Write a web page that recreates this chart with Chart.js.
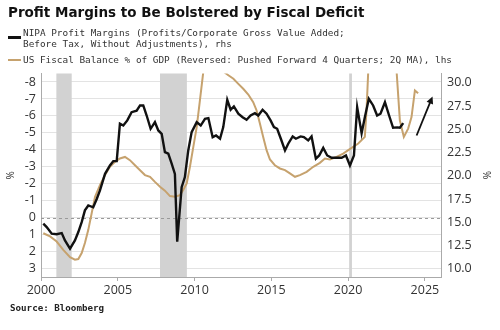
<!DOCTYPE html>
<html>
<head>
<meta charset="utf-8">
<script src="https://cdn.jsdelivr.net/npm/chart.js@4/dist/chart.umd.min.js"></script>
<style>
  body { margin: 0; background: #fff; }
  #wrap { position: relative; width: 500px; height: 330px; overflow: hidden; }
  #chart { position: absolute; left: 0; top: 0; }
  .txt { position: absolute; white-space: nowrap; color: #333; }
  #title { left: 8px; top: 4px; font: bold 13.5px "DejaVu Sans", sans-serif; color: #111; }
  .leg { font: 9.4px "DejaVu Sans Mono", monospace; line-height: 11px; left: 23px; }
  .key { position: absolute; left: 8px; width: 13px; height: 2px; }
  #source { left: 10px; top: 302px; font: bold 9.2px "DejaVu Sans Mono", monospace; color: #222; }
</style>
</head>
<body>
<div id="wrap">
  <canvas id="chart" width="500" height="330"></canvas>
  <div class="txt" id="title">Profit Margins to Be Bolstered by Fiscal Deficit</div>
  <div class="key" style="top:36px;background:#111;height:2.5px"></div>
  <div class="txt leg" style="top:27px">NIPA Profit Margins (Profits/Corporate Gross Value Added;<br>Before Tax, Without Adjustments), rhs</div>
  <div class="key" style="top:59px;background:#c6a26e"></div>
  <div class="txt leg" style="top:54px">US Fiscal Balance % of GDP (Reversed: Pushed Forward 4 Quarters; 2Q MA), lhs</div>
  <div class="txt" id="source">Source: Bloomberg</div>
</div>
<script>
// NIPA profit margins (rhs)
const marginYears = [2000.15, 2000.37, 2000.7, 2001.02, 2001.35, 2001.56, 2001.89, 2002.21, 2002.43, 2002.65,
  2002.86, 2003.08, 2003.4, 2003.63, 2003.84, 2004.17, 2004.49, 2004.71, 2004.93, 2005.14,
  2005.36, 2005.62, 2005.9, 2006.23, 2006.45, 2006.66, 2006.88, 2007.14, 2007.42, 2007.64,
  2007.86, 2008.07, 2008.29, 2008.51, 2008.72, 2008.87, 2009.16, 2009.37, 2009.59, 2009.81,
  2010.14, 2010.4, 2010.68, 2010.9, 2011.18, 2011.4, 2011.66, 2011.87, 2012.13, 2012.35,
  2012.56, 2012.85, 2013.13, 2013.39, 2013.65, 2013.93, 2014.15, 2014.43, 2014.69, 2014.95,
  2015.17, 2015.38, 2015.62, 2015.89, 2016.1, 2016.39, 2016.6, 2016.91, 2017.12, 2017.4,
  2017.62, 2017.9, 2018.12, 2018.38, 2018.64, 2018.93, 2019.25, 2019.58, 2019.86, 2020.12,
  2020.38, 2020.59, 2020.88, 2021.09, 2021.35, 2021.63, 2021.89, 2022.11, 2022.4, 2022.67,
  2022.93, 2023.2, 2023.37, 2023.59];
const marginValues = [14.84, 14.47, 13.76, 13.7, 13.83, 13.04, 12.15, 13.04, 13.94, 15.0,
  16.27, 16.8, 16.6, 17.5, 18.42, 20.2, 21.1, 21.57, 21.57, 25.6,
  25.4, 25.95, 26.84, 27.0, 27.56, 27.56, 26.48, 25.05, 25.76, 24.87,
  24.5, 22.54, 22.37, 21.3, 20.2, 12.9, 18.77, 19.85, 22.72, 24.69,
  25.76, 25.4, 26.13, 26.2, 24.15, 24.33, 23.98, 25.23, 28.17, 27.1,
  27.45, 26.67, 26.3, 26.02, 26.48, 26.73, 26.48, 27.1, 26.67, 25.95,
  25.23, 25.05, 23.98, 22.72, 23.44, 24.23, 23.98, 24.23, 24.15, 23.8,
  24.23, 21.83, 22.18, 23.0, 22.18, 21.93, 21.93, 21.93, 22.18, 21.1,
  22.18, 27.38, 24.58, 26.3, 28.28, 27.56, 26.48, 26.67, 27.91, 26.48,
  25.16, 25.2, 25.16, 25.66];

// US fiscal balance % of GDP (lhs, reversed)
const fiscalYears = [2000.15, 2000.59, 2001.02, 2001.45, 2001.89, 2002.21, 2002.43, 2002.65, 2002.86, 2003.08,
  2003.3, 2003.52, 2003.84, 2004.17, 2004.49, 2004.82, 2005.14, 2005.47, 2005.79, 2006.12,
  2006.45, 2006.77, 2007.1, 2007.42, 2007.75, 2008.07, 2008.4, 2008.72, 2009.05, 2009.26,
  2009.49, 2009.7, 2009.92, 2010.14, 2010.35, 2010.57, 2010.8, 2011.1, 2011.4, 2011.7,
  2011.9, 2012.2, 2012.53, 2012.85, 2013.17, 2013.5, 2013.82, 2014.04, 2014.26, 2014.47,
  2014.69, 2014.91, 2015.23, 2015.56, 2015.89, 2016.21, 2016.54, 2016.86, 2017.3, 2017.73,
  2018.16, 2018.49, 2018.82, 2019.25, 2019.68, 2020.01, 2020.33, 2020.66, 2021.09, 2021.2,
  2021.31, 2021.5, 2021.8, 2022.1, 2022.4, 2022.7, 2023.0, 2023.16, 2023.37, 2023.63,
  2023.91, 2024.13, 2024.35, 2024.56];
const fiscalValues = [0.92, 1.11, 1.41, 1.9, 2.33, 2.48, 2.44, 2.09, 1.5, 0.72,
  -0.26, -1.23, -1.92, -2.51, -3.0, -3.29, -3.49, -3.58, -3.39, -3.09,
  -2.8, -2.51, -2.41, -2.11, -1.82, -1.59, -1.27, -1.23, -1.33, -1.63,
  -2.02, -3.0, -4.17, -5.34, -6.91, -8.6, -9.6, -9.9, -9.6, -8.9,
  -8.6, -8.4, -8.19, -7.89, -7.6, -7.26, -6.81, -6.32, -5.54, -4.76,
  -3.98, -3.43, -3.09, -2.9, -2.8, -2.61, -2.41, -2.51, -2.7, -3.0,
  -3.23, -3.49, -3.43, -3.58, -3.78, -3.98, -4.17, -4.37, -4.76, -6.32,
  -8.6, -11, -14, -15, -13.5, -11.5, -9.5, -8.6, -5.74, -4.76,
  -5.25, -5.93, -7.5, -7.34];

const xTicks = [2000, 2005, 2010, 2015, 2020, 2025];
const leftTicks = [-8, -7, -6, -5, -4, -3, -2, -1, 0, 1, 2, 3];
const rightTicks = [10, 12.5, 15, 17.5, 20, 22.5, 25, 27.5, 30];

// recessions (shaded)
const recessionStart = [2001.0, 2007.75, 2020.07];
const recessionEnd = [2002.0, 2009.5, 2020.25];

// annotation arrow, in (year, rhs value)
const arrowYears = [2024.46, 2025.5];
const arrowValues = [24.33, 28.53];

const tickFont = { family: 'Open Sans', size: 12.5 };

const backdrop = {
  id: 'backdrop',
  beforeDatasetsDraw(chart) {
    const { ctx, chartArea, scales } = chart;
    ctx.save();
    ctx.fillStyle = '#d2d2d2';
    recessionStart.forEach((s, i) => {
      const x0 = scales.x.getPixelForValue(s);
      const x1 = scales.x.getPixelForValue(recessionEnd[i]);
      ctx.fillRect(x0, chartArea.top, x1 - x0, chartArea.bottom - chartArea.top);
    });
    // zero line
    const y0 = Math.round(scales.yL.getPixelForValue(0)) + 0.5;
    ctx.strokeStyle = '#9a9a9a';
    ctx.lineWidth = 1;
    ctx.setLineDash([3, 3]);
    ctx.beginPath();
    ctx.moveTo(chartArea.left, y0);
    ctx.lineTo(chartArea.right, y0);
    ctx.stroke();
    ctx.restore();
  },
  afterDatasetsDraw(chart) {
    const { ctx, scales } = chart;
    const x0 = scales.x.getPixelForValue(arrowYears[0]);
    const y0 = scales.yR.getPixelForValue(arrowValues[0]);
    const x1 = scales.x.getPixelForValue(arrowYears[1]);
    const y1 = scales.yR.getPixelForValue(arrowValues[1]);
    const a = Math.atan2(y1 - y0, x1 - x0);
    ctx.save();
    ctx.strokeStyle = '#111';
    ctx.fillStyle = '#111';
    ctx.lineWidth = 1.8;
    ctx.beginPath();
    ctx.moveTo(x0, y0);
    ctx.lineTo(x1 - 4 * Math.cos(a), y1 - 4 * Math.sin(a));
    ctx.stroke();
    ctx.beginPath();
    ctx.moveTo(x1, y1);
    ctx.lineTo(x1 - 8 * Math.cos(a - 0.45), y1 - 8 * Math.sin(a - 0.45));
    ctx.lineTo(x1 - 8 * Math.cos(a + 0.45), y1 - 8 * Math.sin(a + 0.45));
    ctx.closePath();
    ctx.fill();
    ctx.restore();
  }
};

const ctx = document.getElementById('chart').getContext('2d');

new Chart(ctx, {
  type: 'line',
  data: {
    datasets: [
      {
        label: 'NIPA Profit Margins',
        data: marginYears.map((x, i) => ({ x, y: marginValues[i] })),
        yAxisID: 'yR',
        borderColor: '#111111',
        borderWidth: 2.4,
        pointRadius: 0,
        tension: 0,
      },
      {
        label: 'US Fiscal Balance % of GDP',
        data: fiscalYears.map((x, i) => ({ x, y: fiscalValues[i] })),
        yAxisID: 'yL',
        borderColor: '#c6a26e',
        borderWidth: 2,
        pointRadius: 0,
        tension: 0,
      },
    ],
  },
  options: {
    responsive: false,
    animation: false,
    layout: { padding: { top: 73.5, left: 0, right: 0, bottom: 0 } },
    plugins: { legend: { display: false }, tooltip: { enabled: false } },
    scales: {
      x: {
        type: 'linear',
        min: 2000,
        max: 2026.05,
        afterBuildTicks: s => { s.ticks = xTicks.map(v => ({ value: v })); },
        afterFit: s => { s.height = 53; },
        grid: { drawOnChartArea: false, drawTicks: true, tickLength: 4, tickColor: '#aaa' },
        border: { color: '#aaa' },
        ticks: { color: '#333', font: tickFont, padding: 2, maxRotation: 0, callback: v => String(v) },
      },
      yL: {
        position: 'left',
        reverse: true,
        min: -8.5,
        max: 3.5,
        afterBuildTicks: s => { s.ticks = leftTicks.map(v => ({ value: v })); },
        afterFit: s => { s.width = 41; },
        grid: { color: '#e3e3e3', drawTicks: false },
        border: { color: '#aaa' },
        ticks: { color: '#333', font: tickFont, padding: 5, callback: v => String(v) },
        title: { display: true, text: '%', color: '#333', font: { family: 'Open Sans', size: 10 }, padding: 5 },
      },
      yR: {
        position: 'right',
        min: 9.1,
        max: 31,
        afterBuildTicks: s => { s.ticks = rightTicks.map(v => ({ value: v })); },
        afterFit: s => { s.width = 59; },
        grid: { drawOnChartArea: false, drawTicks: false },
        border: { color: '#aaa' },
        ticks: { color: '#333', font: tickFont, padding: 6, callback: v => v.toFixed(1) },
        title: { display: true, text: '%', color: '#333', font: { family: 'Open Sans', size: 10 }, padding: 8 },
      },
    },
  },
  plugins: [backdrop],
});
</script>
</body>
</html>
